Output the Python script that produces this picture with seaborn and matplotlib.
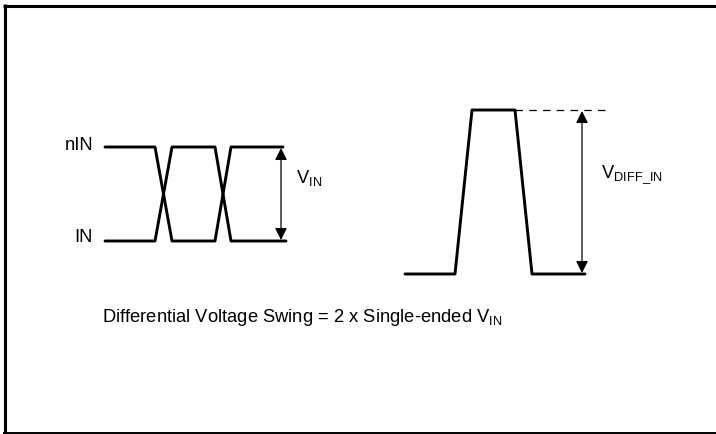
import matplotlib
matplotlib.use("Agg")
import matplotlib.pyplot as plt
import seaborn as sns
import pandas as pd

sns.set_style("white")
plt.rcParams['font.family'] = ['Liberation Sans', 'DejaVu Sans']
plt.rcParams['mathtext.fontset'] = 'custom'
plt.rcParams['mathtext.rm'] = 'Liberation Sans'
plt.rcParams['mathtext.it'] = 'Liberation Sans'
plt.rcParams['text.color'] = 'black'

# waveform vertices (picture pixel coordinates, y grows downward)
nin_x = [105, 155, 172, 215, 231, 283]
nin_y = [147, 147, 241, 241, 147, 147]
in_x = [105, 155, 172, 215, 231, 286]
in_y = [241, 241, 147, 147, 241, 241]
diff_x = [405, 455, 472, 515, 532, 585]
diff_y = [274, 274, 110, 110, 274, 274]

signal_labels = ['nIN', 'IN']
caption = r'Differential Voltage Swing = 2 x Single-ended V$_{\mathregular{IN}}$'

W, H = 716, 434
fig = plt.figure(figsize=(W / 100, H / 100), dpi=100)
ax = fig.add_axes([0, 0, 1, 1])

waves = pd.concat([
    pd.DataFrame({'x': nin_x, 'y': nin_y, 'sig': 'nIN'}),
    pd.DataFrame({'x': in_x, 'y': in_y, 'sig': 'IN'}),
    pd.DataFrame({'x': diff_x, 'y': diff_y, 'sig': 'diff'}),
])
for name, grp in waves.groupby('sig', sort=False):
    sns.lineplot(data=grp, x='x', y='y', sort=False, estimator=None,
                 color='black', lw=2.1, ax=ax)
ax.set_xlim(0, W)
ax.set_ylim(H, 0)
ax.axis('off')

# dashed reference at the top of the differential pulse
ax.plot([diff_x[3], 605], [diff_y[3], diff_y[3]], color='black', lw=0.9,
        dashes=(6, 5))

# amplitude arrows
arrow = dict(arrowstyle='<|-|>', color='black', lw=0.9, mutation_scale=18,
             shrinkA=0, shrinkB=0)
ax.annotate('', xy=(281, nin_y[-1] + 1), xytext=(281, in_y[-1] - 1),
            arrowprops=arrow)
ax.annotate('', xy=(582, diff_y[2] + 1), xytext=(582, diff_y[0] - 1),
            arrowprops=arrow)

fs = 13.2
ax.text(93, 149.5, signal_labels[0], ha='right', va='baseline', fontsize=fs)
ax.text(93, 242, signal_labels[1], ha='right', va='baseline', fontsize=fs)
ax.text(296, 183.5, r'V$_{\mathregular{IN}}$', ha='left', va='baseline', fontsize=fs)
ax.text(601, 178.5, r'V$_{\mathregular{DIFF\_IN}}$', ha='left', va='baseline', fontsize=fs)
ax.text(102, 321.5, caption, ha='left', va='baseline', fontsize=fs)

# frame
ax.plot([3, W], [5.5, 5.5], color='black', lw=2.2, solid_capstyle='butt')
ax.plot([4.5, 4.5], [4, 433], color='black', lw=2.2, solid_capstyle='butt')
ax.plot([3, W], [432.5, 432.5], color='black', lw=1.4, solid_capstyle='butt')

fig.savefig('out.png', dpi=100)
